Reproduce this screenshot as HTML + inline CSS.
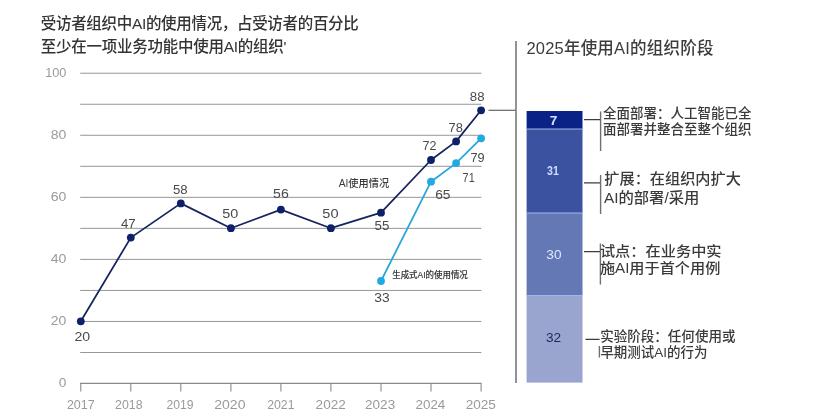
<!DOCTYPE html>
<html lang="zh-CN"><head><meta charset="utf-8"><title>AI使用情况</title>
<style>html,body{margin:0;padding:0;background:#fff}body{width:830px;height:414px;overflow:hidden}svg{display:block}text{font-family:'Liberation Sans','Noto Sans CJK SC',sans-serif}</style></head><body>
<svg width="830" height="414" viewBox="0 0 830 414">
<rect width="830" height="414" fill="#fff"/>
<g fill="#333" font-size="15.5" font-weight="500">
<text x="40.8" y="29.0" textLength="318" lengthAdjust="spacing">受访者组织中AI的使用情况，占受访者的百分比</text>
<text x="40.8" y="51.9" textLength="245.6" lengthAdjust="spacing">至少在一项业务功能中使用AI的组织'</text>
</g>
<g stroke="#909090" stroke-width="0.95">
<line x1="80.2" x2="481.4" y1="352.49" y2="352.49"/>
<line x1="80.2" x2="481.4" y1="321.46" y2="321.46"/>
<line x1="80.2" x2="481.4" y1="290.43" y2="290.43"/>
<line x1="80.2" x2="481.4" y1="259.40" y2="259.40"/>
<line x1="80.2" x2="481.4" y1="228.37" y2="228.37"/>
<line x1="80.2" x2="481.4" y1="197.34" y2="197.34"/>
<line x1="80.2" x2="481.4" y1="166.31" y2="166.31"/>
<line x1="80.2" x2="481.4" y1="135.28" y2="135.28"/>
<line x1="80.2" x2="481.4" y1="104.25" y2="104.25"/>
<line x1="80.2" x2="481.4" y1="73.22" y2="73.22"/>
</g>
<g stroke="#8a8a8a" stroke-width="1.1">
<line x1="80" x2="481.5" y1="383.4" y2="383.4"/>
<line x1="80.8" x2="80.8" y1="383.4" y2="391.6"/>
<line x1="130.8" x2="130.8" y1="383.4" y2="391.6"/>
<line x1="180.8" x2="180.8" y1="383.4" y2="391.6"/>
<line x1="230.9" x2="230.9" y1="383.4" y2="391.6"/>
<line x1="280.9" x2="280.9" y1="383.4" y2="391.6"/>
<line x1="330.9" x2="330.9" y1="383.4" y2="391.6"/>
<line x1="381.0" x2="381.0" y1="383.4" y2="391.6"/>
<line x1="431.0" x2="431.0" y1="383.4" y2="391.6"/>
<line x1="481.1" x2="481.1" y1="383.4" y2="391.6"/>
</g>
<g fill="#9a9a9a" font-size="12.3">
<text x="58.8" y="387.1" textLength="7.6" lengthAdjust="spacingAndGlyphs">0</text>
<text x="50.8" y="325.0" textLength="15.6" lengthAdjust="spacingAndGlyphs">20</text>
<text x="50.8" y="263.0" textLength="15.6" lengthAdjust="spacingAndGlyphs">40</text>
<text x="50.8" y="200.9" textLength="15.6" lengthAdjust="spacingAndGlyphs">60</text>
<text x="50.8" y="138.9" textLength="15.6" lengthAdjust="spacingAndGlyphs">80</text>
<text x="45.2" y="76.8" textLength="21.2" lengthAdjust="spacingAndGlyphs">100</text>
</g>
<g fill="#9a9a9a" font-size="12.3">
<text x="66.9" y="408.6" textLength="27.8" lengthAdjust="spacingAndGlyphs">2017</text>
<text x="115.1" y="408.6" textLength="27.5" lengthAdjust="spacingAndGlyphs">2018</text>
<text x="166.4" y="408.6" textLength="27.1" lengthAdjust="spacingAndGlyphs">2019</text>
<text x="214.2" y="408.6" textLength="31.3" lengthAdjust="spacingAndGlyphs">2020</text>
<text x="267.2" y="408.6" textLength="27.3" lengthAdjust="spacingAndGlyphs">2021</text>
<text x="315.6" y="408.6" textLength="30.2" lengthAdjust="spacingAndGlyphs">2022</text>
<text x="365.0" y="408.6" textLength="30.2" lengthAdjust="spacingAndGlyphs">2023</text>
<text x="415.5" y="408.6" textLength="29.8" lengthAdjust="spacingAndGlyphs">2024</text>
<text x="465.7" y="408.6" textLength="30.2" lengthAdjust="spacingAndGlyphs">2025</text>
</g>
<polyline fill="none" stroke="#25a6dc" stroke-width="1.75" stroke-linejoin="round" points="381.0,281.0 431.0,181.7 456.1,163.1 481.1,138.3"/>
<circle cx="381.0" cy="281.0" r="3.9" fill="#21a9e1"/>
<circle cx="431.0" cy="181.7" r="3.9" fill="#21a9e1"/>
<circle cx="456.1" cy="163.1" r="3.9" fill="#21a9e1"/>
<circle cx="481.1" cy="138.3" r="3.9" fill="#21a9e1"/>
<polyline fill="none" stroke="#16235e" stroke-width="1.75" stroke-linejoin="round" points="80.8,321.3 130.8,237.6 180.8,203.4 230.9,228.2 280.9,209.6 330.9,228.2 381.0,212.7 431.0,160.0 456.1,141.4 481.1,110.3"/>
<circle cx="80.8" cy="321.3" r="3.9" fill="#0e2068"/>
<circle cx="130.8" cy="237.6" r="3.9" fill="#0e2068"/>
<circle cx="180.8" cy="203.4" r="3.9" fill="#0e2068"/>
<circle cx="230.9" cy="228.2" r="3.9" fill="#0e2068"/>
<circle cx="280.9" cy="209.6" r="3.9" fill="#0e2068"/>
<circle cx="330.9" cy="228.2" r="3.9" fill="#0e2068"/>
<circle cx="381.0" cy="212.7" r="3.9" fill="#0e2068"/>
<circle cx="431.0" cy="160.0" r="3.9" fill="#0e2068"/>
<circle cx="456.1" cy="141.4" r="3.9" fill="#0e2068"/>
<circle cx="481.1" cy="110.3" r="3.9" fill="#0e2068"/>
<g fill="#4a4a4a" font-size="12.5">
<text x="74.5" y="341.4" textLength="15.7" lengthAdjust="spacingAndGlyphs">20</text>
<text x="121.0" y="228.3" textLength="14.7" lengthAdjust="spacingAndGlyphs">47</text>
<text x="173.0" y="193.8" textLength="14.7" lengthAdjust="spacingAndGlyphs">58</text>
<text x="222.2" y="217.8" textLength="16.0" lengthAdjust="spacingAndGlyphs">50</text>
<text x="273.1" y="197.9" textLength="15.7" lengthAdjust="spacingAndGlyphs">56</text>
<text x="322.3" y="217.8" textLength="16.2" lengthAdjust="spacingAndGlyphs">50</text>
<text x="374.6" y="230.1" textLength="14.8" lengthAdjust="spacingAndGlyphs">55</text>
<text x="422.6" y="149.9" textLength="14.0" lengthAdjust="spacingAndGlyphs">72</text>
<text x="448.5" y="131.8" textLength="14.4" lengthAdjust="spacingAndGlyphs">78</text>
<text x="469.8" y="100.9" textLength="14.7" lengthAdjust="spacingAndGlyphs">88</text>
<text x="374.2" y="301.8" textLength="15.4" lengthAdjust="spacingAndGlyphs">33</text>
<text x="435.2" y="198.5" textLength="15.3" lengthAdjust="spacingAndGlyphs">65</text>
<text x="462.6" y="182.1" textLength="12.1" lengthAdjust="spacingAndGlyphs">71</text>
<text x="470.4" y="161.7" textLength="14.2" lengthAdjust="spacingAndGlyphs">79</text>
</g>
<text x="338.7" y="186.6" font-size="10.6" fill="#3a3a3a" font-weight="500" textLength="50.4" lengthAdjust="spacingAndGlyphs">AI使用情况</text>
<text x="392.2" y="278" font-size="8.7" fill="#333" stroke="#333" stroke-width="0.1" font-weight="500" textLength="75.6" lengthAdjust="spacingAndGlyphs">生成式AI的使用情况</text>
<g stroke="#808080" fill="none">
<line x1="488.5" x2="516" y1="110.3" y2="110.3" stroke-width="1.2" stroke="#666"/>
<line x1="516" x2="516" y1="41" y2="383" stroke-width="1.7"/>
</g>
<text x="526.4" y="53.6" font-size="16.5" fill="#3c3c3c" font-weight="500" textLength="187" lengthAdjust="spacing">2025年使用AI的组织阶段</text>
<rect x="526.6" y="111.0" width="55.9" height="18.0" fill="#0a2285"/>
<rect x="526.6" y="129.0" width="55.9" height="84.0" fill="#3b52a0"/>
<rect x="526.6" y="213.0" width="55.9" height="82.5" fill="#6478b6"/>
<rect x="526.6" y="295.5" width="55.9" height="87.1" fill="#99a4cf"/>
<g stroke="#a3b6ec" stroke-width="1.2">
<line x1="526.6" x2="582.5" y1="129.0" y2="129.0"/>
<line x1="526.6" x2="582.5" y1="213.0" y2="213.0"/>
<line x1="526.6" x2="582.5" y1="295.5" y2="295.5"/>
</g>
<g font-size="12.2">
<text x="549.8" y="125.3" textLength="7.6" lengthAdjust="spacingAndGlyphs" fill="#d4e1ff" font-weight="bold" font-size="13">7</text>
<text x="547.1" y="175.0" textLength="11.8" lengthAdjust="spacingAndGlyphs" fill="#d0dcff" font-weight="bold" font-size="12.8">31</text>
<text x="546.3" y="258.8" textLength="15.2" lengthAdjust="spacingAndGlyphs" fill="#dde7ff">30</text>
<text x="545.9" y="341.7" textLength="15.2" lengthAdjust="spacingAndGlyphs" fill="#1d2a5c">32</text>
</g>
<g stroke="#3c3c3c" stroke-width="1.3" fill="none">
<path d="M584 119.6H600.6M584 182.8H600.6M584 251.7H600.6M585.5 339.4H599.6"/>
</g>
<g stroke="#707070" stroke-width="1.4" fill="none">
<path d="M600.6 111.4V151M600.6 175V214M600.4 243.5V284.4M599.4 346V357.5"/>
</g>
<g fill="#3a3a3a" font-weight="500">
<text x="603.0" y="118.1" font-size="13.5" textLength="148.4" lengthAdjust="spacingAndGlyphs">全面部署：人工智能已全</text>
<text x="603.0" y="134.4" font-size="13.5" textLength="148.4" lengthAdjust="spacingAndGlyphs">面部署并整合至整个组织</text>
<text x="604.3" y="184.4" font-size="14.3" textLength="136.6" lengthAdjust="spacingAndGlyphs">扩展：在组织内扩大</text>
<text x="604.0" y="202.6" font-size="14.3" textLength="95.3" lengthAdjust="spacingAndGlyphs">AI的部署/采用</text>
<text x="599.9" y="256.4" font-size="14.2" textLength="121.7" lengthAdjust="spacingAndGlyphs">试点：在业务中实</text>
<text x="599.9" y="273.2" font-size="14.2" textLength="120.4" lengthAdjust="spacingAndGlyphs">施AI用于首个用例</text>
<text x="600.2" y="340.5" font-size="13.5" textLength="135.3" lengthAdjust="spacingAndGlyphs">实验阶段：任何使用或</text>
<text x="600.4" y="356.8" font-size="13.5" textLength="107.1" lengthAdjust="spacingAndGlyphs">早期测试AI的行为</text>
</g>
</svg></body></html>
